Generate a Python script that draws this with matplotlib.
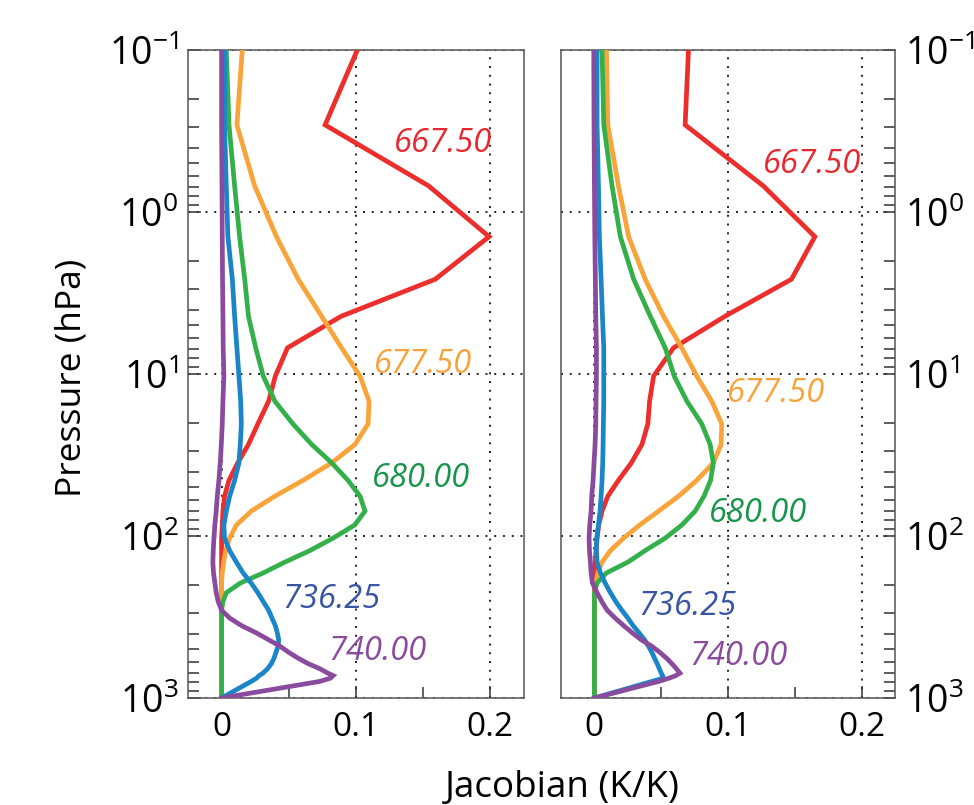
import numpy as np
import matplotlib
matplotlib.use('Agg')
import matplotlib.pyplot as plt
from matplotlib.ticker import FixedLocator, LogLocator, LogFormatterMathtext, NullFormatter

##### data #####
# pressure levels (hPa)
plev = [0.1, 0.29, 0.69, 1.42, 2.6, 4.4, 6.9, 10.3, 14.7, 20.3, 27.2, 35.4, 45.3,
        56.8, 70.2, 85.6, 103, 123, 145, 169, 195, 224, 254, 287, 321, 358, 397,
        437, 479, 523, 568, 614, 662, 702, 727, 754, 790, 1000]

channels = ['667.50', '677.50', '680.00', '736.25', '740.00']

# left panel jacobians (K/K)
red_L = [0.101, 0.077, 0.154, 0.199, 0.159, 0.089, 0.049, 0.040, 0.035, 0.027, 0.020,
         0.012, 0.0055, 0.0022, 0.001, 0.0005, 0, 0, 0, 0, 0, 0, 0, 0, 0, 0, 0,
         0, 0, 0, 0, 0, 0, 0, 0, 0, 0, 0]
orange_L = [0.0154, 0.0114, 0.0246, 0.0408, 0.057, 0.0744, 0.0893, 0.103, 0.1097, 0.109,
            0.0993, 0.0818, 0.0607, 0.0396, 0.0221, 0.011, 0.006, 0.003, 0.0015, 0.0005,
            0, 0, 0, 0, 0, 0, 0, 0, 0, 0, 0, 0, 0, 0, 0, 0, 0, 0]
green_L = [0.0035, 0.0055, 0.0097, 0.0134, 0.0172, 0.020, 0.0254, 0.031, 0.0396, 0.053,
           0.067, 0.082, 0.094, 0.103, 0.1067, 0.099, 0.083, 0.0657, 0.047, 0.031,
           0.014, 0.0035, 0.001, 0, 0, 0, 0, 0, 0, 0, 0, 0, 0, 0, 0, 0, 0, 0]
blue_L = [0.0022, 0.0022, 0.0035, 0.0047, 0.008, 0.0097, 0.0114, 0.0129, 0.0142, 0.0147,
          0.0139, 0.0129, 0.0097, 0.006, 0.0035, 0.0017, 0.0022, 0.006, 0.011, 0.016,
          0.022, 0.027, 0.031, 0.035, 0.0375, 0.040, 0.0415, 0.0425, 0.042, 0.0405,
          0.039, 0.037, 0.034, 0.0308, 0.028, 0.026, 0.022, 0]
purple_L = [0.0, 0.0, 0.0003, 0.0005, 0.0007, 0.001, 0.0012, 0.0017, 0.001, 0.0005,
            -0.0002, -0.001, -0.002, -0.0032, -0.004, -0.005, -0.0057, -0.0062, -0.0065,
            -0.006, -0.005, -0.004, -0.0025, 0.0, 0.006, 0.015, 0.026, 0.035, 0.0435,
            0.050, 0.057, 0.0645, 0.0735, 0.079, 0.083, 0.081, 0.073, 0]

# right panel jacobians (K/K)
red_R = [0.0704, 0.0679, 0.1264, 0.165, 0.1475, 0.0978, 0.0592, 0.0443, 0.0413, 0.040,
         0.0356, 0.0276, 0.018, 0.010, 0.0057, 0.0032, 0.002, 0.0012, 0.0007, 0, 0, 0,
         0, 0, 0, 0, 0, 0, 0, 0, 0, 0, 0, 0, 0, 0, 0, 0]
orange_R = [0.009, 0.010, 0.018, 0.0256, 0.038, 0.0517, 0.0654, 0.0766, 0.0878, 0.0953,
            0.0948, 0.089, 0.0766, 0.063, 0.048, 0.0338, 0.0219, 0.012, 0.0057, 0.0025,
            0.001, 0.0002, 0, 0, 0, 0, 0, 0, 0, 0, 0, 0, 0, 0, 0, 0, 0, 0]
green_R = [0.0057, 0.007, 0.0132, 0.0194, 0.0294, 0.0418, 0.053, 0.0597, 0.0692, 0.0803,
           0.0866, 0.089, 0.087, 0.082, 0.0754, 0.0654, 0.053, 0.038, 0.025, 0.009,
           0.002, 0, 0, 0, 0, 0, 0, 0, 0, 0, 0, 0, 0, 0, 0, 0, 0, 0]
blue_R = [0.002, 0.002, 0.003, 0.0037, 0.005, 0.006, 0.007, 0.007, 0.007, 0.0067,
          0.0065, 0.0062, 0.0057, 0.005, 0.0042, 0.003, 0.0017, 0.0015, 0.002, 0.0045,
          0.008, 0.012, 0.016, 0.0205, 0.025, 0.029, 0.0335, 0.0375, 0.0405, 0.043,
          0.045, 0.047, 0.0487, 0.050, 0.051, 0.0517, 0.043, 0]
purple_R = [-0.0005, -0.0003, 0.0, 0.0003, 0.0007, 0.001, 0.0015, 0.0015, 0.0012, 0.001,
            0.0005, -0.0003, -0.001, -0.002, -0.0025, -0.0035, -0.004, -0.0037, -0.003,
            -0.0025, -0.0015, 0.002, 0.0055, 0.0095, 0.0155, 0.022, 0.0285, 0.035, 0.043,
            0.049, 0.054, 0.058, 0.0615, 0.064, 0.061, 0.056, 0.048, 0]

# label positions (x, p) for each channel
lab_L = [(0.165, 0.426), (0.150, 9.87), (0.1485, 49.9), (0.0817, 278), (0.1157, 582)]
lab_R = [(0.1627, 0.574), (0.1358, 14.9), (0.1224, 82), (0.0698, 307), (0.1075, 625)]

line_colors = ['#ec2f2c', '#f9a43b', '#33b04a', '#1a85c8', '#8a4a9d']
text_colors = ['#e8282e', '#f7a33a', '#17954a', '#3a54a4', '#8a4a9d']

plt.rcParams['font.family'] = ['Open Sans', 'DejaVu Sans']

fig = plt.figure(figsize=(9.74, 8.05), dpi=100)
axL = fig.add_axes([0.1930, 0.1329, 0.3450, 0.8050])
axR = fig.add_axes([0.5760, 0.1329, 0.3429, 0.8050])


def panel(ax, curves, labs, side):
    for x, c in zip(curves, line_colors):
        ax.plot(x, plev, color=c, lw=3.4, solid_joinstyle='miter', zorder=3)
    for name, (tx, tp), c in zip(channels, labs, text_colors):
        ax.text(tx, tp, name, color=c, fontsize=23.5, style='italic',
                ha='center', va='baseline', zorder=4)
    ax.set_yscale('log')
    ax.set_ylim(1000, 0.1)
    ax.set_xlim(-0.025, 0.225)
    ax.xaxis.set_major_locator(FixedLocator([0, 0.1, 0.2]))
    ax.xaxis.set_minor_locator(FixedLocator([0.05, 0.15]))
    ax.set_xticklabels(['0', '0.1', '0.2'])
    ax.yaxis.set_major_locator(LogLocator(base=10, numticks=10))
    ax.yaxis.set_minor_locator(LogLocator(base=10, subs=np.arange(2, 10), numticks=20))
    ax.yaxis.set_major_formatter(LogFormatterMathtext())
    ax.yaxis.set_minor_formatter(NullFormatter())
    ax.grid(True, which='major', linestyle=(0, (1, 3.5)), color='#222222', lw=1.4, zorder=1)
    ax.tick_params(which='both', direction='in', top=False,
                   color='#333333', width=1.1)
    ax.tick_params(axis='x', labelsize=24)
    ax.tick_params(axis='y', labelsize=27)
    ax.tick_params(which='major', length=9, pad=9)
    ax.tick_params(which='minor', length=8)
    if side == 'left':
        ax.tick_params(axis='y', which='both', left=True, right=False,
                       labelleft=True, labelright=False, pad=7)
    else:
        ax.tick_params(axis='y', which='both', left=False, right=True,
                       labelleft=False, labelright=True, pad=7)
    for s in ax.spines.values():
        s.set_color('#555555')
        s.set_linewidth(1.1)


panel(axL, [red_L, orange_L, green_L, blue_L, purple_L], lab_L, 'left')
panel(axR, [red_R, orange_R, green_R, blue_R, purple_R], lab_R, 'right')

fig.text(0.073, 0.530, 'Pressure (hPa)', rotation=90, ha='center', va='center', fontsize=25.5)
fig.text(0.577, 0.0099, 'Jacobian (K/K)', ha='center', va='baseline', fontsize=26.5)

plt.savefig('out.png', dpi=100)
